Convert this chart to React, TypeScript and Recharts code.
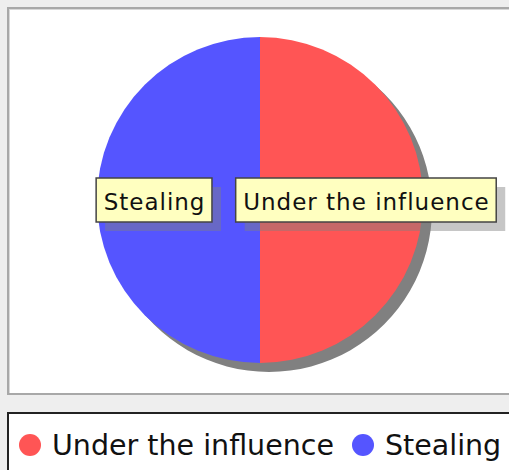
import { Cell, Legend, Pie, PieChart } from "recharts";

const categories = ["Under the influence", "Stealing"];
const values = [50, 50];
const colors = ["#ff5555", "#5555ff"];

const data = categories.map((name, i) => ({ name, value: values[i] }));
const shadowData = [{ name: "shadow", value: 1 }];

const LABEL_FONT = "23px 'DejaVu Sans'";
const LABEL_SPACING = 1;

// ширина текста через canvas, чтобы подогнать рамку метки
const measure = (text: string) => {
  const ctx = document.createElement("canvas").getContext("2d");
  if (!ctx) return text.length * 13;
  ctx.font = LABEL_FONT;
  return ctx.measureText(text).width + LABEL_SPACING * (text.length - 1);
};

const renderLabel = (props: any) => {
  const { cx, cy, midAngle, outerRadius, name } = props;
  const RAD = Math.PI / 180;
  const r = outerRadius * 0.65;
  const x = cx + r * Math.cos(-midAngle * RAD);
  const y = cy + r * Math.sin(-midAngle * RAD);
  const w = measure(name) + 15;
  const h = 44;
  const left = x - w / 2;
  const top = y - h / 2;
  return (
    <g>
      <rect x={left + 9} y={top + 9} width={w} height={h} fill="#808080" fillOpacity={0.45} />
      <rect x={left} y={top} width={w} height={h} fill="#ffffc0" stroke="#444" strokeWidth={1.5} />
      <text
        x={left + 7.5}
        y={y + 10}
        fill="#111"
        style={{ font: LABEL_FONT, letterSpacing: LABEL_SPACING }}
      >
        {name}
      </text>
    </g>
  );
};

const renderLegend = (props: any) => {
  // порядок как в данных, а не по алфавиту
  const items = (props.payload ?? [])
    .filter((p: any) => p.type !== "none" && categories.includes(p.value))
    .sort((a: any, b: any) => categories.indexOf(a.value) - categories.indexOf(b.value));
  return (
    <div style={{ display: "flex", alignItems: "center", height: 62, paddingLeft: 10 }}>
      {items.map((entry: any) => (
        <div key={entry.value} style={{ display: "flex", alignItems: "center", marginRight: 18 }}>
          <span
            style={{
              width: 22,
              height: 22,
              borderRadius: "50%",
              background: colors[categories.indexOf(entry.value)] ?? entry.color,
              display: "inline-block",
              marginRight: 11,
            }}
          />
          <span style={{ font: "28.5px 'DejaVu Sans'", color: "#111", whiteSpace: "nowrap" }}>
            {entry.value}
          </span>
        </div>
      ))}
    </div>
  );
};

export default function App() {
  return (
    <div
      style={{
        position: "absolute",
        top: 0,
        left: 0,
        width: 509,
        height: 470,
        background: "#eeeeee",
        overflow: "hidden",
      }}
    >
      <div
        style={{
          position: "absolute",
          left: 7,
          top: 7,
          width: 540,
          height: 384,
          background: "#fff",
          border: "2px solid #a8a8a8",
          boxShadow: "inset 1px 1px 0 #d8d8d8",
        }}
      />
      <PieChart
        width={509}
        height={470}
        margin={{ top: 0, right: 0, bottom: 0, left: 0 }}
        style={{ position: "absolute", top: 0, left: 0 }}
      >
        <Pie
          data={shadowData}
          dataKey="value"
          nameKey="name"
          cx={269}
          cy={209}
          outerRadius={163}
          fill="#808080"
          stroke="none"
          legendType="none"
          isAnimationActive={false}
        />
        <Pie
          data={data}
          dataKey="value"
          nameKey="name"
          cx={260}
          cy={200}
          outerRadius={163}
          startAngle={90}
          endAngle={-270}
          stroke="none"
          label={renderLabel}
          labelLine={false}
          isAnimationActive={false}
        >
          {data.map((d, i) => (
            <Cell key={d.name} fill={colors[i]} />
          ))}
        </Pie>
        <Legend
          content={renderLegend}
          wrapperStyle={{
            position: "absolute",
            left: 7,
            top: 412,
            width: 540,
            height: 70,
            background: "#fff",
            border: "2px solid #222",
            boxSizing: "border-box",
          }}
        />
      </PieChart>
    </div>
  );
}
